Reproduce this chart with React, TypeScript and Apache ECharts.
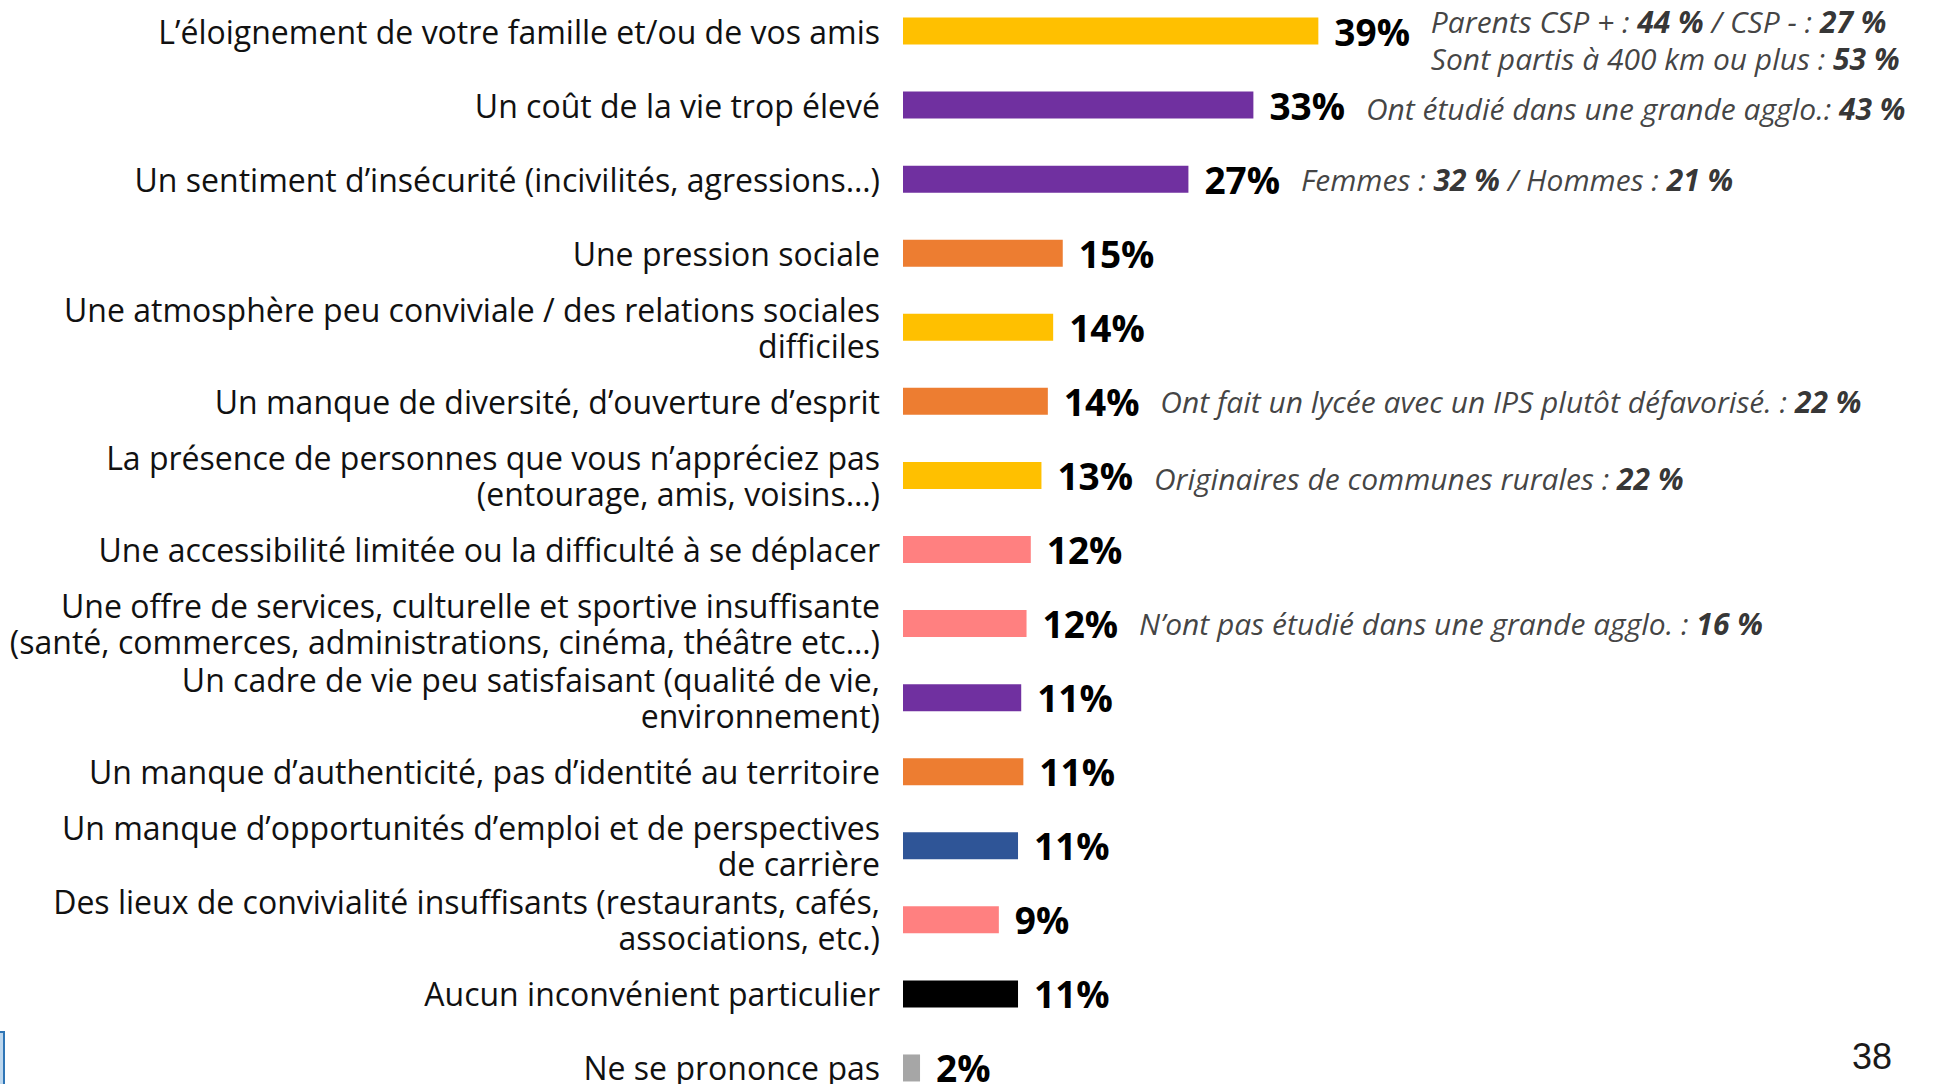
import React, { useEffect, useRef } from "react";
import * as echarts from "echarts";

const categories = [
  "L’éloignement de votre famille et/ou de vos amis",
  "Un coût de la vie trop élevé",
  "Un sentiment d’insécurité (incivilités, agressions…)",
  "Une pression sociale",
  "Une atmosphère peu conviviale / des relations sociales\ndifficiles",
  "Un manque de diversité, d’ouverture d’esprit",
  "La présence de personnes que vous n’appréciez pas\n(entourage, amis, voisins…)",
  "Une accessibilité limitée ou la difficulté à se déplacer",
  "Une offre de services, culturelle et sportive insuffisante\n(santé, commerces, administrations, cinéma, théâtre etc…)",
  "Un cadre de vie peu satisfaisant (qualité de vie,\nenvironnement)",
  "Un manque d’authenticité, pas d’identité au territoire",
  "Un manque d’opportunités d’emploi et de perspectives\nde carrière",
  "Des lieux de convivialité insuffisants (restaurants, cafés,\nassociations, etc.)",
  "Aucun inconvénient particulier",
  "Ne se prononce pas",
];

const values = [39.0, 32.9, 26.8, 15.0, 14.1, 13.6, 13.0, 12.0, 11.6, 11.1, 11.3, 10.8, 9.0, 10.8, 1.6];

const barColors = [
  "#FFC000", "#7030A0", "#7030A0", "#ED7D31", "#FFC000", "#ED7D31", "#FFC000", "#FF8080",
  "#FF8080", "#7030A0", "#ED7D31", "#2F5597", "#FF8080", "#000000", "#A6A6A6",
];

const annotationRows = [0, 1, 2, 5, 6, 8];
const annotationTexts = [
  "Parents CSP + : **44 %** / CSP - : **27 %**\nSont partis à 400 km ou plus : **53 %**",
  "Ont étudié dans une grande agglo.: **43 %**",
  "Femmes : **32 %** / Hommes : **21 %**",
  "Ont fait un lycée avec un IPS plutôt défavorisé. : **22 %**",
  "Originaires de communes rurales : **22 %**",
  "N’ont pas étudié dans une grande agglo. : **16 %**",
];
const annotationOffsetY = [9, 3, 0, 0, 3, 0];

const pageNumber = "38";

const FONT = "'Open Sans', 'Noto Sans', sans-serif";

function toRich(s: string): string {
  return s
    .split("\n")
    .map((line) =>
      line
        .split("**")
        .map((seg, i) => (seg.length ? `{${i % 2 ? "b" : "i"}|${seg}}` : ""))
        .join("")
    )
    .join("\n");
}

export default function App() {
  const ref = useRef<HTMLDivElement>(null);
  useEffect(() => {
    if (!ref.current) return;
    const chart = echarts.init(ref.current, null, { renderer: "svg" });
    const richTexts = annotationTexts.map(toRich);
    chart.setOption({
      animation: false,
      backgroundColor: "#ffffff",
      grid: {
        left: 903,
        top: -6,
        width: 1065,
        height: 1111,
        containLabel: false,
        outerBoundsMode: "none",
      },
      xAxis: { type: "value", min: 0, max: 100, show: false },
      yAxis: {
        type: "category",
        data: categories,
        inverse: true,
        axisLine: { show: false },
        axisTick: { show: false },
        splitLine: { show: false },
        axisLabel: {
          interval: 0,
          margin: 23,
          fontSize: 32,
          lineHeight: 36,
          fontFamily: FONT,
          color: "#111111",
          align: "right",
        },
      },
      series: [
        {
          type: "bar",
          barWidth: 27,
          silent: true,
          data: values.map((v, i) => ({ value: v, itemStyle: { color: barColors[i] } })),
          label: {
            show: true,
            position: "right",
            distance: 16,
            formatter: (p: any) => Math.round(p.value) + "%",
            fontFamily: FONT,
            fontWeight: "bold",
            fontSize: 37,
            color: "#000000",
          },
        },
        {
          type: "scatter",
          silent: true,
          symbolSize: 1,
          itemStyle: { color: "rgba(0,0,0,0)" },
          z: 5,
          data: annotationRows.map((r, k) => ({
            value: [values[r], categories[r]],
            label: { offset: [0, annotationOffsetY[k]] },
          })),
          label: {
            show: true,
            position: "right",
            distance: 112,
            formatter: (p: any) => richTexts[p.dataIndex],
            rich: {
              i: { fontFamily: FONT, fontStyle: "italic", fontSize: 30, lineHeight: 37, color: "#111111" },
              b: { fontFamily: FONT, fontStyle: "italic", fontWeight: "bold", fontSize: 30, lineHeight: 37, color: "#000000" },
            },
          },
        },
      ],
      graphic: [
        {
          type: "text",
          x: 1892,
          y: 1056,
          style: {
            text: pageNumber,
            font: "36px 'Liberation Sans', Arial, sans-serif",
            fill: "#1a1a1a",
            textAlign: "right",
            textVerticalAlign: "middle",
          },
        },
        {
          type: "rect",
          shape: { x: -10, y: 1032, width: 14, height: 80 },
          style: { fill: "#BDD7EE", stroke: "#2E75B6", lineWidth: 2 },
        },
      ],
    });
    return () => chart.dispose();
  }, []);
  return (
    <div
      ref={ref}
      style={{ position: "absolute", left: 0, top: 0, width: 1959, height: 1084 }}
    />
  );
}
